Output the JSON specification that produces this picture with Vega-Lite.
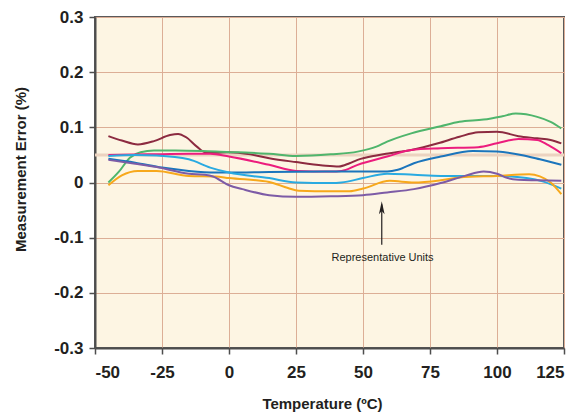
{
  "$schema": "https://vega.github.io/schema/vega-lite/v6.json",
  "width": 469,
  "height": 331,
  "autosize": {"type": "none"},
  "padding": {"left": 95, "top": 17, "right": 14, "bottom": 65},
  "background": "#ffffff",
  "config": {
    "view": {"fill": "#fdf5e3", "stroke": "#5a5a5a", "strokeWidth": 2},
    "font": "Liberation Sans, Arial, sans-serif",
    "axis": {
      "gridColor": "#dcae96",
      "gridWidth": 1,
      "gridOpacity": 1,
      "domainColor": "#4d4d4d",
      "domainWidth": 2,
      "tickColor": "#4d4d4d",
      "tickWidth": 1.5,
      "tickSize": 6,
      "labelFont": "Liberation Sans, Arial, sans-serif",
      "labelFontSize": 17,
      "labelFontWeight": "bold",
      "labelColor": "#231f20",
      "titleFont": "Liberation Sans, Arial, sans-serif",
      "titleFontSize": 15,
      "titleFontWeight": "bold",
      "titleColor": "#231f20"
    }
  },
  "datasets": {
    "curves": [
      {"unit": "Unit 1", "t": -45, "v": 0.084}, {"unit": "Unit 1", "t": -40, "v": 0.076}, {"unit": "Unit 1", "t": -34, "v": 0.069}, {"unit": "Unit 1", "t": -28, "v": 0.075}, {"unit": "Unit 1", "t": -22, "v": 0.086}, {"unit": "Unit 1", "t": -19, "v": 0.088}, {"unit": "Unit 1", "t": -16, "v": 0.082}, {"unit": "Unit 1", "t": -12, "v": 0.065}, {"unit": "Unit 1", "t": -9, "v": 0.055}, {"unit": "Unit 1", "t": -5, "v": 0.054}, {"unit": "Unit 1", "t": 0, "v": 0.055}, {"unit": "Unit 1", "t": 8, "v": 0.051}, {"unit": "Unit 1", "t": 15, "v": 0.044}, {"unit": "Unit 1", "t": 25, "v": 0.037}, {"unit": "Unit 1", "t": 35, "v": 0.031}, {"unit": "Unit 1", "t": 41, "v": 0.029}, {"unit": "Unit 1", "t": 45, "v": 0.035}, {"unit": "Unit 1", "t": 48, "v": 0.041}, {"unit": "Unit 1", "t": 55, "v": 0.049}, {"unit": "Unit 1", "t": 60, "v": 0.053}, {"unit": "Unit 1", "t": 68, "v": 0.059}, {"unit": "Unit 1", "t": 78, "v": 0.071}, {"unit": "Unit 1", "t": 86, "v": 0.083}, {"unit": "Unit 1", "t": 93, "v": 0.091}, {"unit": "Unit 1", "t": 100, "v": 0.092}, {"unit": "Unit 1", "t": 108, "v": 0.084}, {"unit": "Unit 1", "t": 115, "v": 0.08}, {"unit": "Unit 1", "t": 120, "v": 0.077}, {"unit": "Unit 1", "t": 124, "v": 0.071},

      {"unit": "Unit 2", "t": -45, "v": 0.0}, {"unit": "Unit 2", "t": -41, "v": 0.02}, {"unit": "Unit 2", "t": -37, "v": 0.045}, {"unit": "Unit 2", "t": -33, "v": 0.055}, {"unit": "Unit 2", "t": -28, "v": 0.058}, {"unit": "Unit 2", "t": -20, "v": 0.058}, {"unit": "Unit 2", "t": -10, "v": 0.057}, {"unit": "Unit 2", "t": 0, "v": 0.055}, {"unit": "Unit 2", "t": 8, "v": 0.054}, {"unit": "Unit 2", "t": 15, "v": 0.052}, {"unit": "Unit 2", "t": 25, "v": 0.048}, {"unit": "Unit 2", "t": 38, "v": 0.051}, {"unit": "Unit 2", "t": 48, "v": 0.056}, {"unit": "Unit 2", "t": 55, "v": 0.065}, {"unit": "Unit 2", "t": 59, "v": 0.074}, {"unit": "Unit 2", "t": 68, "v": 0.089}, {"unit": "Unit 2", "t": 79, "v": 0.102}, {"unit": "Unit 2", "t": 86, "v": 0.11}, {"unit": "Unit 2", "t": 95, "v": 0.114}, {"unit": "Unit 2", "t": 102, "v": 0.12}, {"unit": "Unit 2", "t": 107, "v": 0.125}, {"unit": "Unit 2", "t": 115, "v": 0.119}, {"unit": "Unit 2", "t": 120, "v": 0.11}, {"unit": "Unit 2", "t": 124, "v": 0.098},

      {"unit": "Unit 3", "t": -45, "v": 0.05}, {"unit": "Unit 3", "t": -30, "v": 0.051}, {"unit": "Unit 3", "t": -15, "v": 0.052}, {"unit": "Unit 3", "t": -7, "v": 0.052}, {"unit": "Unit 3", "t": 0, "v": 0.047}, {"unit": "Unit 3", "t": 15, "v": 0.032}, {"unit": "Unit 3", "t": 25, "v": 0.021}, {"unit": "Unit 3", "t": 38, "v": 0.02}, {"unit": "Unit 3", "t": 42, "v": 0.021}, {"unit": "Unit 3", "t": 48, "v": 0.032}, {"unit": "Unit 3", "t": 59, "v": 0.047}, {"unit": "Unit 3", "t": 68, "v": 0.059}, {"unit": "Unit 3", "t": 79, "v": 0.062}, {"unit": "Unit 3", "t": 93, "v": 0.064}, {"unit": "Unit 3", "t": 100, "v": 0.071}, {"unit": "Unit 3", "t": 108, "v": 0.079}, {"unit": "Unit 3", "t": 115, "v": 0.077}, {"unit": "Unit 3", "t": 119, "v": 0.068}, {"unit": "Unit 3", "t": 124, "v": 0.053},

      {"unit": "Unit 4", "t": -45, "v": 0.043}, {"unit": "Unit 4", "t": -35, "v": 0.036}, {"unit": "Unit 4", "t": -25, "v": 0.027}, {"unit": "Unit 4", "t": -15, "v": 0.021}, {"unit": "Unit 4", "t": -5, "v": 0.018}, {"unit": "Unit 4", "t": 0, "v": 0.018}, {"unit": "Unit 4", "t": 15, "v": 0.019}, {"unit": "Unit 4", "t": 38, "v": 0.02}, {"unit": "Unit 4", "t": 59, "v": 0.02}, {"unit": "Unit 4", "t": 63, "v": 0.023}, {"unit": "Unit 4", "t": 69, "v": 0.035}, {"unit": "Unit 4", "t": 79, "v": 0.047}, {"unit": "Unit 4", "t": 91, "v": 0.057}, {"unit": "Unit 4", "t": 100, "v": 0.056}, {"unit": "Unit 4", "t": 109, "v": 0.05}, {"unit": "Unit 4", "t": 116, "v": 0.042}, {"unit": "Unit 4", "t": 124, "v": 0.032},

      {"unit": "Unit 5", "t": -45, "v": 0.048}, {"unit": "Unit 5", "t": -35, "v": 0.05}, {"unit": "Unit 5", "t": -27, "v": 0.049}, {"unit": "Unit 5", "t": -15, "v": 0.042}, {"unit": "Unit 5", "t": -7, "v": 0.027}, {"unit": "Unit 5", "t": 0, "v": 0.018}, {"unit": "Unit 5", "t": 15, "v": 0.008}, {"unit": "Unit 5", "t": 25, "v": 0.0}, {"unit": "Unit 5", "t": 38, "v": -0.001}, {"unit": "Unit 5", "t": 42, "v": 0.0}, {"unit": "Unit 5", "t": 50, "v": 0.008}, {"unit": "Unit 5", "t": 59, "v": 0.016}, {"unit": "Unit 5", "t": 69, "v": 0.014}, {"unit": "Unit 5", "t": 79, "v": 0.012}, {"unit": "Unit 5", "t": 100, "v": 0.012}, {"unit": "Unit 5", "t": 111, "v": 0.008}, {"unit": "Unit 5", "t": 117, "v": 0.002}, {"unit": "Unit 5", "t": 124, "v": -0.011},

      {"unit": "Unit 6", "t": -45, "v": -0.005}, {"unit": "Unit 6", "t": -40, "v": 0.013}, {"unit": "Unit 6", "t": -34, "v": 0.021}, {"unit": "Unit 6", "t": -27, "v": 0.021}, {"unit": "Unit 6", "t": -15, "v": 0.012}, {"unit": "Unit 6", "t": -5, "v": 0.011}, {"unit": "Unit 6", "t": 0, "v": 0.008}, {"unit": "Unit 6", "t": 15, "v": 0.001}, {"unit": "Unit 6", "t": 22, "v": -0.01}, {"unit": "Unit 6", "t": 26, "v": -0.015}, {"unit": "Unit 6", "t": 38, "v": -0.016}, {"unit": "Unit 6", "t": 45, "v": -0.016}, {"unit": "Unit 6", "t": 50, "v": -0.011}, {"unit": "Unit 6", "t": 60, "v": 0.003}, {"unit": "Unit 6", "t": 69, "v": 0.0}, {"unit": "Unit 6", "t": 79, "v": 0.004}, {"unit": "Unit 6", "t": 86, "v": 0.009}, {"unit": "Unit 6", "t": 100, "v": 0.012}, {"unit": "Unit 6", "t": 112, "v": 0.015}, {"unit": "Unit 6", "t": 116, "v": 0.011}, {"unit": "Unit 6", "t": 120, "v": 0.0}, {"unit": "Unit 6", "t": 124, "v": -0.021},

      {"unit": "Unit 7", "t": -45, "v": 0.041}, {"unit": "Unit 7", "t": -35, "v": 0.034}, {"unit": "Unit 7", "t": -27, "v": 0.028}, {"unit": "Unit 7", "t": -15, "v": 0.016}, {"unit": "Unit 7", "t": -9, "v": 0.014}, {"unit": "Unit 7", "t": -6, "v": 0.011}, {"unit": "Unit 7", "t": 0, "v": -0.005}, {"unit": "Unit 7", "t": 5, "v": -0.012}, {"unit": "Unit 7", "t": 15, "v": -0.023}, {"unit": "Unit 7", "t": 25, "v": -0.026}, {"unit": "Unit 7", "t": 38, "v": -0.025}, {"unit": "Unit 7", "t": 50, "v": -0.023}, {"unit": "Unit 7", "t": 59, "v": -0.018}, {"unit": "Unit 7", "t": 69, "v": -0.012}, {"unit": "Unit 7", "t": 79, "v": -0.001}, {"unit": "Unit 7", "t": 88, "v": 0.012}, {"unit": "Unit 7", "t": 95, "v": 0.02}, {"unit": "Unit 7", "t": 100, "v": 0.016}, {"unit": "Unit 7", "t": 104, "v": 0.008}, {"unit": "Unit 7", "t": 108, "v": 0.005}, {"unit": "Unit 7", "t": 115, "v": 0.004}, {"unit": "Unit 7", "t": 124, "v": 0.003}
    ]
  },
  "layer": [
    {
      "data": {"values": [{"v": 0.05}]},
      "mark": {"type": "rule", "color": "#ecd3c0", "strokeWidth": 3},
      "encoding": {
        "y": {"field": "v", "type": "quantitative", "scale": {"domain": [-0.3, 0.3], "nice": false, "zero": false}}
      }
    },
    {
      "data": {"name": "curves"},
      "mark": {"type": "line", "interpolate": "monotone", "strokeWidth": 2, "clip": true},
      "encoding": {
        "x": {
          "field": "t", "type": "quantitative",
          "scale": {"domain": [-50, 125], "nice": false, "zero": false},
          "axis": {
            "values": [-50, -25, 0, 25, 50, 75, 100, 125],
            "labelExpr": "replace(format(datum.value, 'd'), '\u2212', '-')",
            "labelPadding": 10,
            "title": "Temperature (ºC)",
            "titlePadding": 16,
            "titleX": 227,
            "grid": true
          }
        },
        "y": {
          "field": "v", "type": "quantitative",
          "scale": {"domain": [-0.3, 0.3], "nice": false, "zero": false},
          "axis": {
            "values": [-0.3, -0.25, -0.2, -0.15, -0.1, -0.05, 0, 0.05, 0.1, 0.15, 0.2, 0.25, 0.3],
            "labelExpr": "abs(round(datum.value * 20)) % 2 == 0 ? replace(format(datum.value, '.1~f'), '\u2212', '-') : ''",
            "labelPadding": 6,
            "title": "Measurement Error (%)",
            "titlePadding": 25,
            "titleY": 152,
            "grid": true
          }
        },
        "color": {
          "field": "unit", "type": "nominal", "legend": null,
          "scale": {
            "domain": ["Unit 1", "Unit 2", "Unit 3", "Unit 4", "Unit 5", "Unit 6", "Unit 7"],
            "range": ["#8c2a40", "#4fb56c", "#ec1c7d", "#1b75bc", "#29aae1", "#f7a81b", "#7d5ba6"]
          }
        }
      }
    },
    {
      "data": {"values": [{"t": 57, "y1": -0.113, "y2": -0.04}]},
      "mark": {"type": "rule", "color": "#231f20", "strokeWidth": 1.2},
      "encoding": {
        "x": {"field": "t", "type": "quantitative"},
        "y": {"field": "y1", "type": "quantitative"},
        "y2": {"field": "y2"}
      }
    },
    {
      "data": {"values": [{"t": 57, "v": -0.034}]},
      "mark": {"type": "point", "shape": "M0,0L0.35,1.6L0,1.2L-0.35,1.6Z", "size": 264, "filled": true, "color": "#231f20", "opacity": 1, "strokeWidth": 0},
      "encoding": {
        "x": {"field": "t", "type": "quantitative"},
        "y": {"field": "v", "type": "quantitative"}
      }
    },
    {
      "data": {"values": [{"t": 57.3, "v": -0.137, "label": "Representative Units"}]},
      "mark": {"type": "text", "fontSize": 11, "color": "#231f20", "font": "Liberation Sans, Arial, sans-serif"},
      "encoding": {
        "x": {"field": "t", "type": "quantitative"},
        "y": {"field": "v", "type": "quantitative"},
        "text": {"field": "label"}
      }
    }
  ]
}
